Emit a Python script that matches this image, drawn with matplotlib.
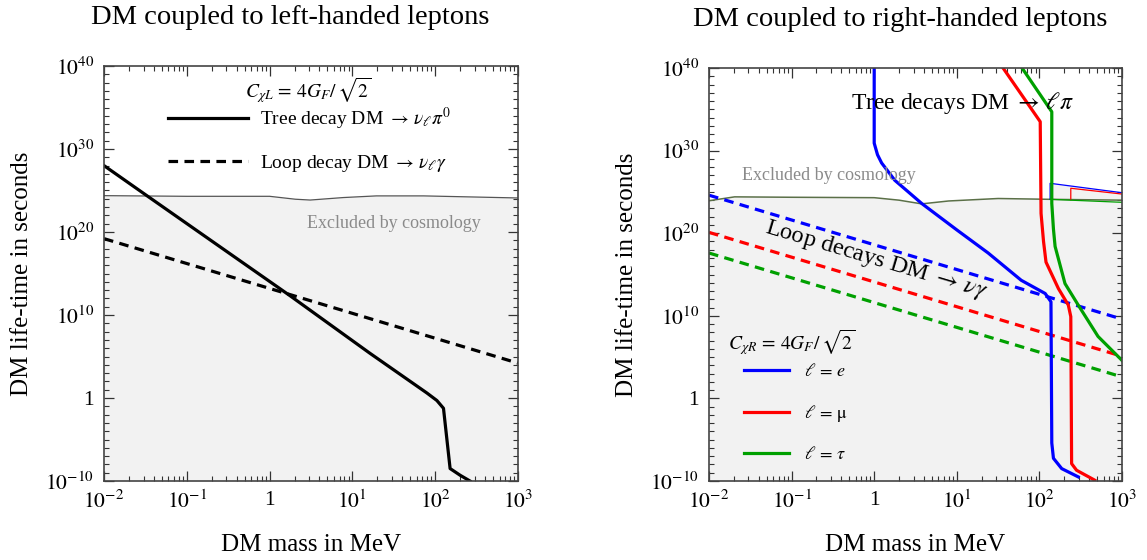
import numpy as np
import matplotlib
matplotlib.use("Agg")
import matplotlib.pyplot as plt
from matplotlib.ticker import FixedLocator, FuncFormatter, NullFormatter

plt.rcParams["font.family"] = ["Liberation Serif", "DejaVu Serif"]
plt.rcParams["mathtext.fontset"] = "stix"

# ---- data (log10 of DM mass in MeV / log10 of life-time in s) ----
# left panel: coupling to left-handed leptons
left_tree_logm = [-2.0, -1.5, 0.25, 1.21, 1.9, 2.02, 2.10, 2.18, 2.30, 2.42]
left_tree_logt = [28.0, 24.5, 12.3, 5.4, 0.6, -0.3, -1.24, -8.5, -9.3, -10.0]
left_loop_logm = [-2.0, 3.0]
left_loop_logt = [19.2, 4.2]
left_cosmo_logm = [-2.0, -1.0, 0.0, 0.31, 0.49, 0.89, 1.29, 1.86, 3.0]
left_cosmo_logt = [24.38, 24.3, 24.3, 23.95, 23.85, 24.15, 24.35, 24.35, 24.1]

# right panel: coupling to right-handed leptons
flavours = ["e", "mu", "tau"]
flavour_labels = [r"$\ell\, =\, e$", r"$\ell\, =\, \mathrm{\mu}$", r"$\ell\, =\, \tau$"]
flavour_colors = ["#0000ff", "#ff0000", "#00a000"]
tree_logm = {
    "e": [0.0, 0.0, 0.04, 0.09, 0.25, 0.575, 1.0, 1.38, 1.78, 2.07, 2.14, 2.15, 2.17, 2.27, 2.47],
    "mu": [1.56, 2.01, 2.02, 2.05, 2.08, 2.23, 2.35, 2.38, 2.39, 2.45, 2.67],
    "tau": [1.79, 2.15, 2.15, 2.17, 2.19, 2.31, 2.47, 2.71, 3.0],
}
tree_logt = {
    "e": [40.0, 30.9, 29.5, 28.5, 26.4, 23.6, 20.4, 17.6, 14.3, 12.7, 11.7, -5.4, -7.25, -8.5, -9.5],
    "mu": [40.0, 33.5, 22.4, 19.0, 16.5, 13.3, 11.3, 9.9, -7.9, -8.7, -9.9],
    "tau": [40.0, 34.7, 23.6, 20.5, 18.4, 13.9, 11.3, 7.5, 4.6],
}
loop_logm = [-2.0, 3.0]
loop_logt = {
    "e": [24.6, 9.6],
    "mu": [20.1, 5.1],
    "tau": [17.6, 2.6],
}
right_cosmo_logm = [-2.0, -1.69, -1.0, 0.0, 0.3, 0.575, 0.9, 1.5, 2.14, 3.0]
right_cosmo_logt = [23.93, 24.4, 24.35, 24.3, 24.0, 23.55, 23.9, 24.2, 24.1, 24.0]
# thin bounds above the cosmology line at high mass
box_logm = {"e": [2.13, 2.13, 3.0], "mu": [2.38, 2.38, 3.0], "tau": [2.13, 3.0]}
box_logt = {"e": [24.1, 26.04, 24.9], "mu": [24.05, 25.44, 24.74], "tau": [24.1, 23.74]}

XMIN, XMAX = 1e-2, 1e3
YMIN, YMAX = 1e-10, 1e40
SHADE = "#f2f2f2"


def p10(vals):
    return 10.0 ** np.asarray(vals, dtype=float)


def pow_label(v, pos):
    n = int(round(np.log10(v)))
    if n == 0:
        return "1"
    return r"$10^{%d}$" % n


def style_axes(ax):
    ax.set_xscale("log")
    ax.set_yscale("log")
    ax.set_xlim(XMIN, XMAX)
    ax.set_ylim(YMIN, YMAX)
    ax.xaxis.set_major_locator(FixedLocator(p10(np.arange(-2, 4))))
    ax.xaxis.set_minor_locator(FixedLocator(
        [m * 10.0 ** e for e in range(-2, 3) for m in range(2, 10)]))
    ax.yaxis.set_major_locator(FixedLocator(p10(np.arange(-10, 41, 10))))
    ax.yaxis.set_minor_locator(FixedLocator(p10(np.arange(-10, 41, 1))))
    ax.xaxis.set_major_formatter(FuncFormatter(pow_label))
    ax.yaxis.set_major_formatter(FuncFormatter(pow_label))
    ax.xaxis.set_minor_formatter(NullFormatter())
    ax.yaxis.set_minor_formatter(NullFormatter())
    ax.tick_params(which="both", direction="in", top=True, right=True,
                   labelsize=15.5, color="#333333", pad=7)
    ax.tick_params(which="major", length=7, width=0.9)
    ax.tick_params(which="minor", length=3.5, width=0.8)
    for sp in ax.spines.values():
        sp.set_color("#444444")
        sp.set_linewidth(1.2)
    ax.set_xlabel("DM mass in MeV", fontsize=18, labelpad=15)
    ax.set_ylabel("DM life-time in seconds", fontsize=18, labelpad=9)


fig = plt.figure(figsize=(11.47, 5.6), dpi=100)
W, H = 1147.0, 560.0
ax1 = fig.add_axes([104 / W, 1 - 481 / H, 414 / W, 415 / H])
ax2 = fig.add_axes([709 / W, 1 - 481 / H, 413 / W, 413 / H])

# ---- left panel ----
ax1.fill_between(p10(left_cosmo_logm), YMIN, p10(left_cosmo_logt),
                 color=SHADE, lw=0, zorder=0)
ax1.plot(p10(left_cosmo_logm), p10(left_cosmo_logt), color="#555555", lw=0.9)
tree_l, = ax1.plot(p10(left_tree_logm), p10(left_tree_logt), color="black",
                   lw=2.3, solid_joinstyle="round")
loop_l, = ax1.plot(p10(left_loop_logm), p10(left_loop_logt), color="black",
                   lw=2.3, dashes=[3.0, 2.0])
ax1.text(0.495, 0.94, r"$C_{\chi L}\,=\,4G_F/\,\sqrt{2}$", transform=ax1.transAxes,
         fontsize=14, ha="center", va="center")
ax1.legend([tree_l, loop_l],
           [r"Tree decay DM $\rightarrow\,\nu_\ell\pi^0$",
            r"Loop decay DM $\rightarrow\,\nu_\ell\gamma$"],
           loc="upper left", bbox_to_anchor=(0.155, 0.905), frameon=False,
           fontsize=14, handlelength=4.1, handletextpad=0.6, labelspacing=1.1,
           borderpad=0, borderaxespad=0)
ax1.text(0.70, 0.62, "Excluded by cosmology", transform=ax1.transAxes,
         fontsize=13, color="#8a8a8a", ha="center", va="center")
style_axes(ax1)
fig.text(290 / W, 1 - 17 / H, "DM coupled to left-handed leptons",
         fontsize=20.5, ha="center", va="center")

# ---- right panel ----
ax2.fill_between(p10(right_cosmo_logm), YMIN, p10(right_cosmo_logt),
                 color=SHADE, lw=0, zorder=0)
ax2.fill_between(p10(box_logm["e"][1:]), YMIN, p10(box_logt["e"][1:]),
                 color=SHADE, lw=0, zorder=0)
ax2.plot(p10(right_cosmo_logm), p10(right_cosmo_logt), color="#5b7048", lw=1.1)
for fl, col in zip(flavours, flavour_colors):
    ax2.plot(p10(box_logm[fl]), p10(box_logt[fl]), color=col, lw=0.9)
handles = []
for fl, col in zip(flavours, flavour_colors):
    ax2.plot(p10(loop_logm), p10(loop_logt[fl]), color=col, lw=2.3,
             dashes=[3.0, 2.0])
for fl, col in zip(flavours, flavour_colors):
    h, = ax2.plot(p10(tree_logm[fl]), p10(tree_logt[fl]), color=col, lw=2.3)
    handles.append(h)
ax2.text(0.345, 0.915, r"Tree decays DM $\rightarrow\,\ell\pi$", transform=ax2.transAxes,
         fontsize=17, ha="left", va="center")
ax2.text(0.405, 0.535, r"Loop decays DM $\rightarrow\,\nu\gamma$", transform=ax2.transAxes,
         fontsize=17.5, ha="center", va="center", rotation=-16.5)
ax2.text(0.08, 0.74, "Excluded by cosmology", transform=ax2.transAxes,
         fontsize=13, color="#8a8a8a", ha="left", va="center")
ax2.text(0.045, 0.335, r"$C_{\chi R}\,=\,4G_F/\,\sqrt{2}$", transform=ax2.transAxes,
         fontsize=14, ha="left", va="center")
ax2.legend(handles, flavour_labels, loc="upper left", bbox_to_anchor=(0.085, 0.285),
           frameon=False, fontsize=13, handlelength=2.5, handletextpad=0.8,
           labelspacing=1.25, borderpad=0, borderaxespad=0)
style_axes(ax2)
fig.text(900 / W, 1 - 19 / H, "DM coupled to right-handed leptons",
         fontsize=20.5, ha="center", va="center")

fig.savefig("out.png", dpi=100)
